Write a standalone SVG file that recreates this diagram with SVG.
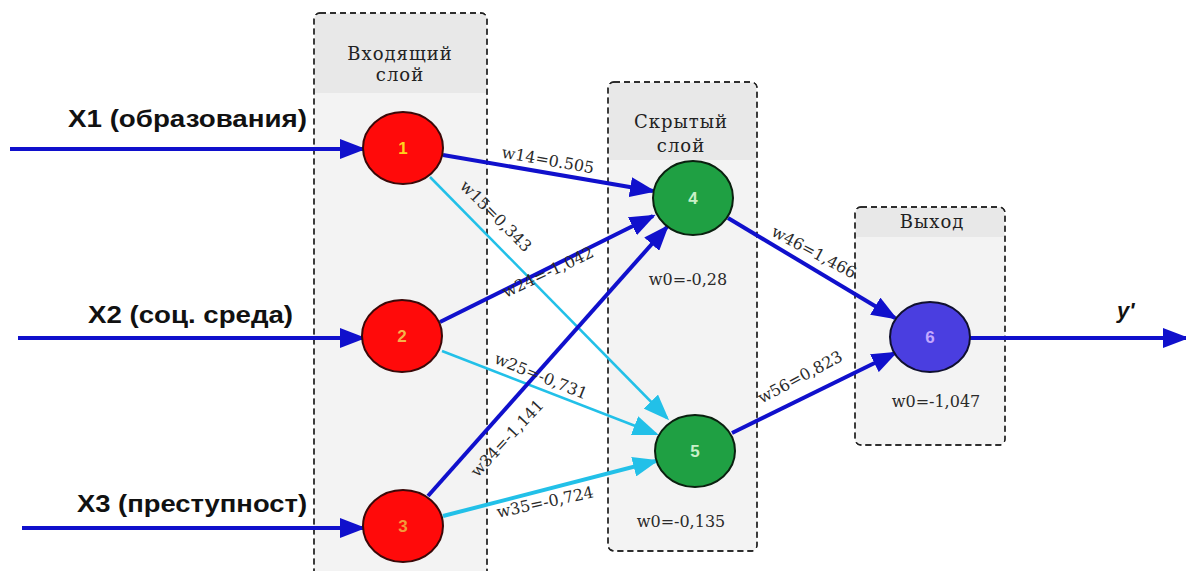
<svg xmlns="http://www.w3.org/2000/svg" width="1186" height="571" viewBox="0 0 1186 571">
<style>
.box{fill:#f3f3f3;stroke:#222;stroke-width:1.3;stroke-dasharray:6,4}
.hdr{fill:#e8e8e8}
.ttl{font-family:"DejaVu Serif","Liberation Serif",serif;font-size:18px;fill:#222;text-anchor:middle;letter-spacing:1px}
.wl{font-family:"DejaVu Serif","Liberation Serif",serif;font-size:16px;fill:#2a2a2a;text-anchor:middle}
.in{font-family:"Liberation Sans",Arial,sans-serif;font-size:24px;font-weight:bold;fill:#111}
.num{font-family:"Liberation Sans",Arial,sans-serif;font-size:17px;font-weight:bold;text-anchor:middle}
.db{stroke:#1010cc;stroke-width:4;fill:none}
.cy{stroke:#22c0e8;stroke-width:2.5;fill:none}
.cyt{stroke:#22c0e8;stroke-width:4;fill:none}
.red{fill:#ff0a0a;stroke:#3a0808;stroke-width:2}
.grn{fill:#1fa043;stroke:#0a200f;stroke-width:2}
.pur{fill:#4a3ee0;stroke:#101030;stroke-width:2}
</style>
<defs>
<marker id="aB" markerUnits="userSpaceOnUse" markerWidth="26" markerHeight="20" refX="23" refY="10" orient="auto"><path d="M0,0 L26,10 L0,20 z" fill="#1010cc"/></marker>
<marker id="aC" markerUnits="userSpaceOnUse" markerWidth="26" markerHeight="20" refX="23" refY="10" orient="auto"><path d="M0,0 L26,10 L0,20 z" fill="#22c0e8"/></marker>
</defs>
<rect width="1186" height="571" fill="#fff"/>
<g id="layer-input">
<rect class="box" x="314" y="13" width="173" height="575" rx="6"/>
<path class="hdr" d="M315,93 V19 Q315,14 320,14 H481 Q486,14 486,19 V93 z"/>
<rect x="314" y="13" width="173" height="575" rx="6" fill="none" stroke="#222" stroke-width="1.3" stroke-dasharray="6,4"/>
<text class="ttl" x="400" y="60">Входящий</text>
<text class="ttl" x="400" y="81">слой</text>
</g>
<g id="layer-hidden">
<rect class="box" x="608" y="82" width="149" height="469" rx="6"/>
<path class="hdr" d="M609,160 V88 Q609,83 614,83 H751 Q756,83 756,88 V160 z"/>
<rect x="608" y="82" width="149" height="469" rx="6" fill="none" stroke="#222" stroke-width="1.3" stroke-dasharray="6,4"/>
<text class="ttl" x="681" y="128">Скрытый</text>
<text class="ttl" x="681" y="152">слой</text>
</g>
<g id="layer-output">
<rect class="box" x="855" y="207" width="150" height="238" rx="6"/>
<path class="hdr" d="M856,237 V213 Q856,208 861,208 H999 Q1004,208 1004,213 V237 z"/>
<rect x="855" y="207" width="150" height="238" rx="6" fill="none" stroke="#222" stroke-width="1.3" stroke-dasharray="6,4"/>
<text class="ttl" x="932" y="228">Выход</text>
</g>
<g id="connectors">
<line class="db" x1="10" y1="149" x2="363" y2="149" marker-end="url(#aB)"/>
<line class="db" x1="18" y1="338" x2="363" y2="338" marker-end="url(#aB)"/>
<line class="db" x1="22" y1="528" x2="363" y2="528" marker-end="url(#aB)"/>
<line class="cy" x1="430" y1="177" x2="667" y2="418" marker-end="url(#aC)"/>
<line class="cy" x1="442" y1="351" x2="656" y2="434" marker-end="url(#aC)"/>
<line class="cyt" x1="443" y1="516" x2="656" y2="461" marker-end="url(#aC)"/>
<line class="db" x1="443" y1="155" x2="653" y2="191" marker-end="url(#aB)"/>
<line class="db" x1="440" y1="322" x2="653" y2="216" marker-end="url(#aB)"/>
<line class="db" x1="428" y1="496" x2="667" y2="227" marker-end="url(#aB)"/>
<line class="db" x1="728" y1="218" x2="895" y2="318" marker-end="url(#aB)"/>
<line class="db" x1="732" y1="433" x2="895" y2="353" marker-end="url(#aB)"/>
<line class="db" x1="970" y1="338" x2="1186" y2="338" marker-end="url(#aB)"/>
<text class="wl" transform="translate(548,160) rotate(10)" dy=".35em">w14=0.505</text>
<text class="wl" transform="translate(496,216) rotate(45)" dy=".35em">w15=0,343</text>
<text class="wl" transform="translate(548,272) rotate(-25)" dy=".35em">w24=-1,042</text>
<text class="wl" transform="translate(541,376) rotate(22)" dy=".35em">w25=-0,731</text>
<text class="wl" transform="translate(507,438) rotate(-47)" dy=".35em">w34=-1,141</text>
<text class="wl" transform="translate(545,502) rotate(-12)" dy=".35em">w35=-0,724</text>
<text class="wl" transform="translate(814,252) rotate(28)" dy=".35em">w46=1,466</text>
<text class="wl" transform="translate(800,377) rotate(-28)" dy=".35em">w56=0,823</text>
</g>
<g id="input-labels">
<text class="in" x="68" y="127" textLength="239" lengthAdjust="spacingAndGlyphs">X1 (образования)</text>
<text class="in" x="88" y="323" textLength="205" lengthAdjust="spacingAndGlyphs">X2 (соц. среда)</text>
<text class="in" x="77" y="512" textLength="230" lengthAdjust="spacingAndGlyphs">X3 (преступност)</text>
<text x="1117" y="318" font-family="Liberation Sans, Arial, sans-serif" font-size="22" font-weight="bold" font-style="italic" fill="#111">y'</text>
</g>
<g id="node1"><ellipse class="red" cx="403" cy="148" rx="40" ry="36"/><text class="num" x="403" y="154" fill="#ffd21e">1</text></g>
<g id="node2"><ellipse class="red" cx="402" cy="336" rx="40" ry="36"/><text class="num" x="402" y="342" fill="#f5b34a">2</text></g>
<g id="node3"><ellipse class="red" cx="403" cy="526" rx="40" ry="36"/><text class="num" x="403" y="532" fill="#f29a3a">3</text></g>
<g id="node4"><ellipse class="grn" cx="693" cy="198" rx="40" ry="37"/><text class="num" x="693" y="204" fill="#c8f0c8">4</text><text class="wl" x="688" y="285">w0=-0,28</text></g>
<g id="node5"><ellipse class="grn" cx="695" cy="451" rx="40" ry="36"/><text class="num" x="695" y="457" fill="#c8f0c8">5</text><text class="wl" x="681" y="527">w0=-0,135</text></g>
<g id="node6"><ellipse class="pur" cx="930" cy="337" rx="40" ry="35"/><text class="num" x="930" y="343" fill="#c4a8ff" font-weight="normal">6</text><text class="wl" x="936" y="407">w0=-1,047</text></g>
</svg>
